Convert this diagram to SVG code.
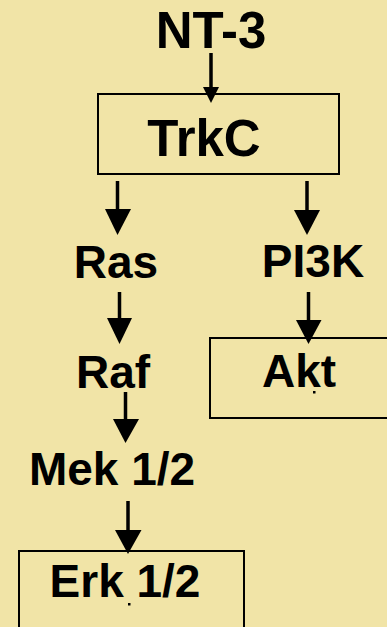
<svg xmlns="http://www.w3.org/2000/svg" width="387" height="627" viewBox="0 0 387 627">
<style>
.t{font-family:"Liberation Sans",Arial,sans-serif;font-weight:bold;fill:#000;text-anchor:middle}
.big{font-size:51px}
.mid{font-size:46px}
.box{fill:none;stroke:#000;stroke-width:2}
.ln{stroke:#000;stroke-width:3.5;fill:none}
.hd{fill:#000}
</style>
<rect width="387" height="627" fill="#F1E4A7"/>
<g id="nt3"><text class="t big" x="211" y="48">NT-3</text></g>
<g id="trkc"><rect class="box" x="98" y="94" width="241" height="80"/><text class="t big" x="204" y="156">TrkC</text></g>
<g id="ras"><text class="t mid" x="116" y="278">Ras</text></g>
<g id="pi3k"><text class="t mid" x="313" y="277">PI3K</text></g>
<g id="raf"><text class="t mid" x="113" y="388">Raf</text></g>
<g id="akt"><rect class="box" x="210" y="338" width="190" height="80"/><text class="t mid" x="299" y="387">Akt</text><rect x="313" y="391" width="2.5" height="2.5" fill="#000"/></g>
<g id="mek"><text class="t mid" x="112" y="485">Mek 1/2</text></g>
<g id="erk"><rect class="box" x="19" y="551" width="225" height="90"/><text class="t mid" x="125" y="597">Erk 1/2</text><rect x="128" y="603" width="2.5" height="2.5" fill="#000"/></g>
<g id="connectors">
<line class="ln" x1="211" y1="53" x2="211" y2="90"/><polygon class="hd" points="203,87 219,87 211,103"/>
<line class="ln" x1="117.5" y1="181" x2="117.5" y2="212"/><polygon class="hd" points="105,209 131,209 117.5,235"/>
<line class="ln" x1="307" y1="181" x2="307" y2="213"/><polygon class="hd" points="294,210 320,210 307,235"/>
<line class="ln" x1="119.5" y1="292" x2="119.5" y2="321"/><polygon class="hd" points="107,318 132,318 119.5,344"/>
<line class="ln" x1="308.5" y1="292" x2="308.5" y2="323"/><polygon class="hd" points="296,320 321.5,320 308.5,344"/>
<line class="ln" x1="125.5" y1="392" x2="125.5" y2="422"/><polygon class="hd" points="113,419 139,419 125.5,443"/>
<line class="ln" x1="128" y1="501" x2="128" y2="533"/><polygon class="hd" points="115,530 141.5,530 128,554"/>
</g>
</svg>
